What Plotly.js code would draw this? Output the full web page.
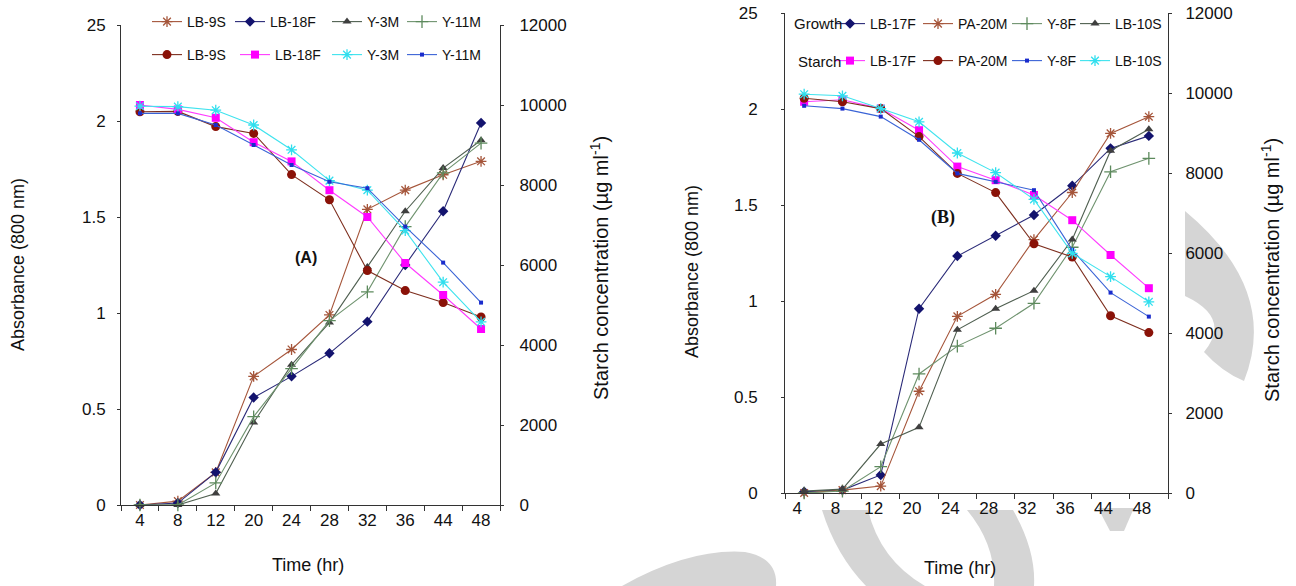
<!DOCTYPE html>
<html>
<head>
<meta charset="utf-8">
<script src="https://cdn.plot.ly/plotly-3.0.1.min.js"></script>
<style>html,body{margin:0;padding:0;background:#fff;}#chart{width:1296px;height:586px;}</style>
</head>
<body>
<div id="chart"></div>
<script>
// ---------- data ----------
var timeLabels = ['4','8','12','20','24','28','32','36','44','48'];

// Chart A – growth (absorbance, 800 nm)
var growthA_LB9S  = [0.00, 0.02, 0.17, 0.67, 0.81, 0.99, 1.54, 1.64, 1.72, 1.79];
var growthA_LB18F = [0.00, 0.01, 0.17, 0.56, 0.67, 0.79, 0.955, 1.25, 1.53, 1.99];
var growthA_Y3M   = [0.00, 0.00, 0.06, 0.43, 0.73, 0.95, 1.24, 1.53, 1.755, 1.90];
var growthA_Y11M  = [0.00, 0.00, 0.115, 0.46, 0.71, 0.96, 1.11, 1.45, 1.73, 1.885];
// Chart A – starch (µg/ml)
var starchA_LB9S  = [9830, 9840, 9460, 9290, 8260, 7630, 5860, 5360, 5060, 4700];
var starchA_LB18F = [10000, 9890, 9680, 9070, 8590, 7870, 7200, 6050, 5250, 4400];
var starchA_Y3M   = [9970, 9960, 9870, 9500, 8880, 8110, 7870, 6860, 5570, 4580];
var starchA_Y11M  = [9790, 9790, 9500, 9000, 8500, 8080, 7920, 6960, 6060, 5060];

// Chart B – growth (absorbance, 800 nm)
var growthB_LB17F = [0.007, 0.015, 0.094, 0.96, 1.234, 1.34, 1.448, 1.60, 1.795, 1.86];
var growthB_PA20M = [0.00, 0.015, 0.036, 0.53, 0.92, 1.035, 1.32, 1.565, 1.873, 1.96];
var growthB_Y8F   = [0.00, 0.01, 0.137, 0.62, 0.765, 0.858, 0.988, 1.28, 1.673, 1.743];
var growthB_LB10S = [0.01, 0.02, 0.255, 0.342, 0.85, 0.96, 1.054, 1.32, 1.783, 1.894];
// Chart B – starch (µg/ml)
var starchB_LB17F = [9780, 9830, 9610, 9070, 8160, 7820, 7450, 6820, 5950, 5120];
var starchB_PA20M = [9870, 9780, 9610, 8910, 7990, 7510, 6230, 5900, 4430, 4010];
var starchB_Y8F   = [9680, 9610, 9410, 8830, 7990, 7780, 7570, 6080, 5010, 4410];
var starchB_LB10S = [9970, 9930, 9610, 9280, 8500, 8010, 7340, 5990, 5410, 4780];

var absTickVals = [0, 0.5, 1, 1.5, 2, 2.5];
var absTickText = ['0', '0.5', '1', '1.5', '2', '25'];

// ---------- helpers ----------
var W = 1296, H = 586;
function px(x) { return x / W; }
function py(y) { return 1 - y / H; }
var FONT = 'Liberation Sans, Arial, sans-serif';

var ST = {
  asterBrown: {color: '#a5553a', marker: {symbol: 'asterisk-open', size: 9, color: '#a5553a', line: {color: '#9a3f2a', width: 1.3}}},
  navyDiamond: {color: '#2a2a78', marker: {symbol: 'diamond', size: 8, color: '#13136e'}},
  grayTri: {color: '#4f5f50', marker: {symbol: 'triangle-up', size: 8, color: '#3f3f3f'}},
  greenCross: {color: '#6f936f', marker: {symbol: 'cross-thin-open', size: 9, color: '#5d8a5d', line: {color: '#5d8a5d', width: 1.3}}},
  redCircle: {color: '#7d2e1e', marker: {symbol: 'circle', size: 9, color: '#8a1208'}},
  magSquare: {color: '#ff3cff', marker: {symbol: 'square', size: 8, color: '#ff00ff'}},
  cyanAster: {color: '#3fe3ee', marker: {symbol: 'asterisk-open', size: 9, color: '#30dfee', line: {color: '#30dfee', width: 1.3}}},
  blueDash: {color: '#3a63d6', marker: {symbol: 'square', size: 4, color: '#1a2ccc'}}
};

var legendCount = 0;
var legends = {};
function legendAt(x, y) {
  legendCount += 1;
  var key = legendCount === 1 ? 'legend' : 'legend' + legendCount;
  legends[key] = {orientation: 'h', x: px(x - 40), y: py(y), xanchor: 'left', yanchor: 'middle',
    bgcolor: 'rgba(0,0,0,0)', borderwidth: 0, itemwidth: 30, tracegroupgap: 0,
    font: {family: FONT, size: 14, color: '#111'}, itemclick: false};
  return key;
}

function tr(name, y, st, xa, ya, lgx, lgy) {
  return {
    type: 'scatter', mode: 'lines+markers', name: name,
    x: timeLabels, y: y, xaxis: xa, yaxis: ya, legend: legendAt(lgx, lgy),
    line: {color: st.color, width: 1.1},
    marker: st.marker,
    cliponaxis: false
  };
}

var data = [
  tr('LB-9S',  growthA_LB9S,  ST.asterBrown,  'x', 'y', 187, 22),
  tr('LB-18F', growthA_LB18F, ST.navyDiamond, 'x', 'y', 270, 22),
  tr('Y-3M',   growthA_Y3M,   ST.grayTri,     'x', 'y', 367, 22),
  tr('Y-11M',  growthA_Y11M,  ST.greenCross,  'x', 'y', 442, 22),
  tr('LB-9S',  starchA_LB9S,  ST.redCircle,   'x', 'y2', 187, 55),
  tr('LB-18F', starchA_LB18F, ST.magSquare,   'x', 'y2', 275, 55),
  tr('Y-3M',   starchA_Y3M,   ST.cyanAster,   'x', 'y2', 367, 55),
  tr('Y-11M',  starchA_Y11M,  ST.blueDash,    'x', 'y2', 442, 55),

  tr('LB-17F', growthB_LB17F, ST.navyDiamond, 'x2', 'y3', 870, 24),
  tr('PA-20M', growthB_PA20M, ST.asterBrown,  'x2', 'y3', 958, 24),
  tr('Y-8F',   growthB_Y8F,   ST.greenCross,  'x2', 'y3', 1047, 24),
  tr('LB-10S', growthB_LB10S, ST.grayTri,     'x2', 'y3', 1115, 24),
  tr('LB-17F', starchB_LB17F, ST.magSquare,   'x2', 'y4', 870, 61),
  tr('PA-20M', starchB_PA20M, ST.redCircle,   'x2', 'y4', 958, 61),
  tr('Y-8F',   starchB_Y8F,   ST.blueDash,    'x2', 'y4', 1047, 61),
  tr('LB-10S', starchB_LB10S, ST.cyanAster,   'x2', 'y4', 1115, 61)
];

var tickFont = {family: FONT, size: 17, color: '#111'};
function xAx(d0, d1, anchor, shift) {
  return {domain: [px(d0), px(d1)], anchor: anchor, type: 'category', range: [-0.5, 9.5],
    showline: true, linecolor: '#333', linewidth: 1, ticks: 'outside', tickson: 'boundaries',
    ticklen: 5, tickcolor: '#333', showgrid: false, zeroline: false, tickfont: tickFont,
    ticklabelshift: shift};
}
function yAbs(top, bottom, anchor, standoff) {
  return {domain: [py(bottom), py(top)], anchor: anchor, range: [0, 2.5],
    tickvals: absTickVals, ticktext: absTickText,
    showline: true, linecolor: '#333', ticks: 'outside', ticklen: 3, tickcolor: '#333',
    showgrid: false, zeroline: false, tickfont: tickFont, ticklabelstandoff: standoff};
}
function yStarch(over, anchor, standoff) {
  return {overlaying: over, anchor: anchor, side: 'right', range: [0, 12000], dtick: 2000,
    tickformat: 'd', showline: true, linecolor: '#333', ticks: 'outside', ticklen: 3,
    tickcolor: '#333', showgrid: false, zeroline: false, tickfont: tickFont,
    ticklabelstandoff: standoff};
}

function ann(text, x, y, opts) {
  var a = {text: text, x: px(x), y: py(y), xref: 'paper', yref: 'paper', showarrow: false,
    xanchor: 'center', yanchor: 'middle', font: {family: FONT, size: 18, color: '#111'}};
  for (var k in opts) a[k] = opts[k];
  return a;
}

// light-grey watermark pieces (page decoration behind the figure)
function P(p) { return px(p[0]).toFixed(5) + ',' + py(p[1]).toFixed(5); }
// segs: first point, then [ctrl, end] pairs for quadratic curves or [end] for straight lines
function curvy(start, segs) {
  var d = 'M' + P(start);
  segs.forEach(function (s) {
    d += s.length === 2 ? ' Q' + P(s[0]) + ' ' + P(s[1]) : ' L' + P(s[0]);
  });
  return {type: 'path', xref: 'paper', yref: 'paper', layer: 'below', path: d + ' Z',
    fillcolor: '#d5d5d5', line: {width: 0}};
}

var layout = {
  width: W, height: H,
  margin: {l: 0, r: 0, t: 0, b: 0},
  paper_bgcolor: '#fff', plot_bgcolor: 'rgba(0,0,0,0)',
  showlegend: true,
  xaxis: xAx(121, 500, 'y', 0),
  yaxis: yAbs(25, 505, 'x', 8),
  yaxis2: yStarch('y', 'x', 12),
  xaxis2: xAx(785, 1168, 'y3', -7),
  yaxis3: yAbs(13, 493, 'x2', 20),
  yaxis4: yStarch('y3', 'x2', 10),
  shapes: [
    curvy([622,586], [[[690,548],[745,552]], [[778,558],[776,586]]]),
    curvy([822,510], [[[868,510]], [[880,560],[925,586]], [[866,586]], [[836,555],[822,510]]]),
    curvy([967,510], [[[1013,510]], [[1036,550],[1034,586]], [[994,586]], [[996,545],[967,510]]]),
    curvy([1098,508], [[[1134,508]], [[1124,531]], [[1110,531]]]),
    curvy([1185,211], [[[1280,290],[1244,381]], [[1222,372],[1204,352]], [[1232,318],[1185,296]]])
  ],
  annotations: [
    ann('Absorbance (800 nm)', 18, 265, {textangle: -90}),
    ann('Starch concentration (µg ml<sup>-1</sup>)', 600, 268, {textangle: -90, font: {family: FONT, size: 20, color: '#111'}}),
    ann('Time (hr)', 308, 565),
    ann('<b>(A)</b>', 306, 257, {font: {family: FONT, size: 16, color: '#111'}}),
    ann('Growth', 818, 24, {font: {family: FONT, size: 15, color: '#111'}}),
    ann('Starch', 819, 61, {font: {family: FONT, size: 15, color: '#111'}}),
    ann('Absorbance (800 nm)', 692, 272, {textangle: -90}),
    ann('Starch concentration (µg ml<sup>-1</sup>)', 1270, 270, {textangle: -90, font: {family: FONT, size: 20, color: '#111'}}),
    ann('Time (hr)', 960, 568),
    ann('<b>(B)</b>', 943, 217, {font: {family: 'Liberation Serif, serif', size: 18, color: '#111'}})
  ]
};
for (var key in legends) layout[key] = legends[key];

Plotly.newPlot('chart', data, layout, {displayModeBar: false, staticPlot: true});
</script>
</body>
</html>
